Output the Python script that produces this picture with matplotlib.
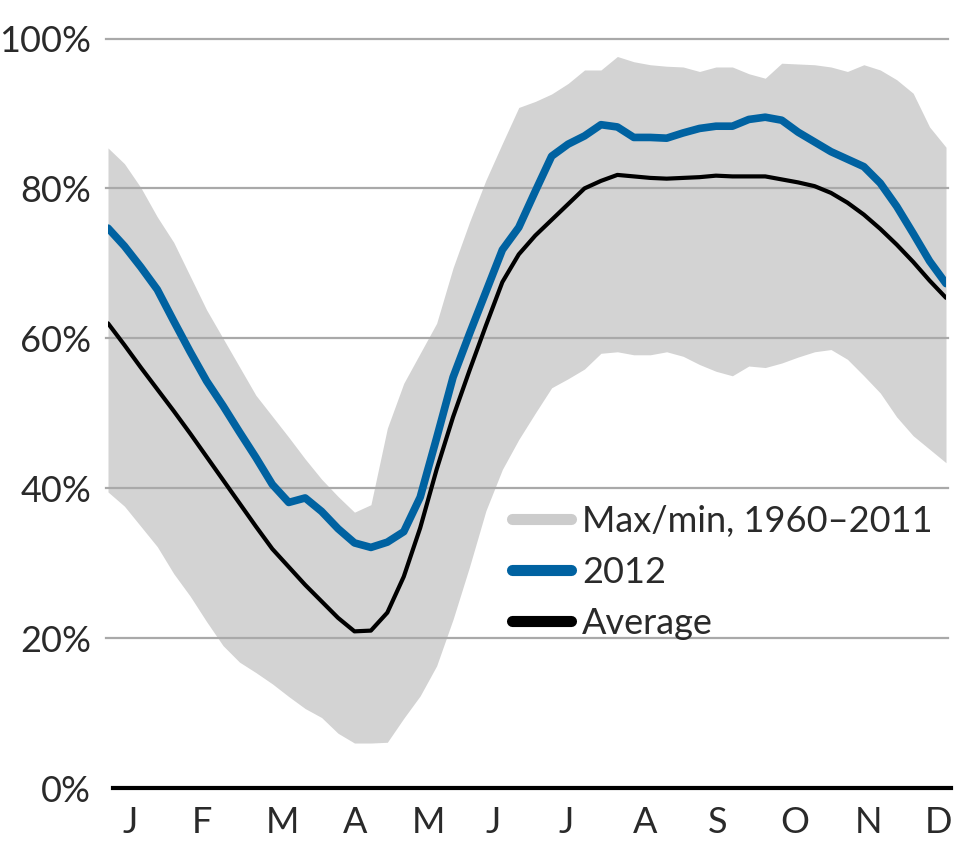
import numpy as np
import matplotlib
matplotlib.use("Agg")
import matplotlib.pyplot as plt
from matplotlib.lines import Line2D

# weekly reservoir filling, %
weeks = np.arange(52)

fill_max = [85.4, 83.3, 80.1, 76.2, 72.8, 68.3, 63.8, 60.0, 56.2, 52.4,
            49.6, 46.8, 43.9, 41.2, 38.9, 36.8, 37.8, 48.0, 54.0, 58.0,
            62.0, 69.4, 75.5, 81.1, 86.0, 90.8, 91.6, 92.6, 94.0, 95.8,
            95.8, 97.6, 96.9, 96.5, 96.3, 96.2, 95.6, 96.2, 96.2, 95.3,
            94.7, 96.7, 96.6, 96.5, 96.2, 95.6, 96.5, 95.8, 94.5, 92.7,
            88.2, 85.5]

fill_min = [39.5, 37.6, 34.9, 32.2, 28.6, 25.6, 22.2, 19.0, 16.8, 15.4,
            13.9, 12.2, 10.6, 9.4, 7.3, 6.0, 6.0, 6.1, 9.3, 12.3,
            16.3, 22.5, 29.5, 37.0, 42.5, 46.5, 50.0, 53.4, 54.6, 55.9,
            58.0, 58.2, 57.8, 57.8, 58.2, 57.6, 56.5, 55.6, 55.0, 56.3,
            56.1, 56.7, 57.5, 58.2, 58.5, 57.2, 55.0, 52.7, 49.5, 47.0,
            45.2, 43.4]

fill_2012 = [74.7, 72.3, 69.5, 66.5, 62.3, 58.2, 54.3, 51.0, 47.5, 44.1,
             40.5, 38.1, 38.7, 36.9, 34.6, 32.7, 32.1, 32.8, 34.2, 38.8,
             46.7, 54.8, 60.6, 66.2, 71.8, 74.8, 79.6, 84.3, 85.9, 87.0,
             88.5, 88.2, 86.8, 86.8, 86.7, 87.4, 88.0, 88.3, 88.3, 89.2,
             89.5, 89.1, 87.5, 86.2, 84.9, 83.9, 82.9, 80.7, 77.6, 74.0,
             70.3, 67.3]

fill_avg = [62.0, 59.1, 56.1, 53.2, 50.3, 47.3, 44.2, 41.1, 38.0, 34.9,
            31.9, 29.5, 27.1, 24.9, 22.7, 20.9, 21.0, 23.4, 28.2, 34.7,
            42.5, 49.5, 55.7, 61.7, 67.5, 71.2, 73.7, 75.8, 77.9, 80.0,
            81.0, 81.8, 81.6, 81.4, 81.3, 81.4, 81.5, 81.7, 81.6, 81.6,
            81.6, 81.2, 80.8, 80.3, 79.4, 78.1, 76.5, 74.6, 72.5, 70.2,
            67.7, 65.4]

month_labels = ['J', 'F', 'M', 'A', 'M', 'J', 'J', 'A', 'S', 'O', 'N', 'D']
y_ticks = [0, 20, 40, 60, 80, 100]

# layout
month_pos = [1.34, 5.72, 10.59, 15.03, 19.48, 23.43, 27.87, 32.68, 37.07, 41.81, 46.26, 50.52]
blue = '#0062a1'
grey = '#d3d3d3'
font = 'Lato'
txt = '#2a2a2a'

fig = plt.figure(figsize=(9.6, 8.43), dpi=100)
ax = fig.add_axes([108 / 960, 55 / 843, 838 / 960, 749.5 / 843])

ax.fill_between(weeks, fill_min, fill_max, color=grey, lw=0, zorder=1)
for y in y_ticks[1:]:
    ax.axhline(y, xmin=-0.002, xmax=1.002, color='#a9a9a9', lw=1.6, zorder=2, clip_on=False)
ax.axhline(0, xmin=0.006, xmax=1.006, color='black', lw=3, zorder=2, clip_on=False)

ax.plot(weeks, fill_2012, color=blue, lw=5.5, solid_capstyle='round', zorder=3)
ax.plot(weeks, fill_avg, color='black', lw=3, solid_capstyle='round', zorder=4)

ax.set_xlim(0, 51)
ax.set_ylim(0, 100)
for s in ax.spines.values():
    s.set_visible(False)

ax.set_yticks(y_ticks)
ax.set_yticklabels([f'{v}%' for v in y_ticks], fontsize=26, fontfamily=font, color=txt)
ax.set_xticks(month_pos)
ax.set_xticklabels(month_labels, fontsize=26, fontfamily=font, color=txt)
ax.tick_params(axis='y', length=0, pad=12)
ax.tick_params(axis='x', length=0, pad=13)

handles = [Line2D([], [], color='#cccccc', lw=8, solid_capstyle='round'),
           Line2D([], [], color=blue, lw=8, solid_capstyle='round'),
           Line2D([], [], color='black', lw=8, solid_capstyle='round')]
leg = ax.legend(handles, ['Max/min, 1960\u20132011', '2012', 'Average'],
                loc='upper left', bbox_to_anchor=(0.482, 0.378), frameon=False,
                prop={'family': font, 'size': 26}, handlelength=1.65,
                handletextpad=0.3, labelspacing=0.5, borderpad=0, borderaxespad=0)
for t in leg.get_texts():
    t.set_color(txt)

fig.savefig('out.png', dpi=100, facecolor='white')
